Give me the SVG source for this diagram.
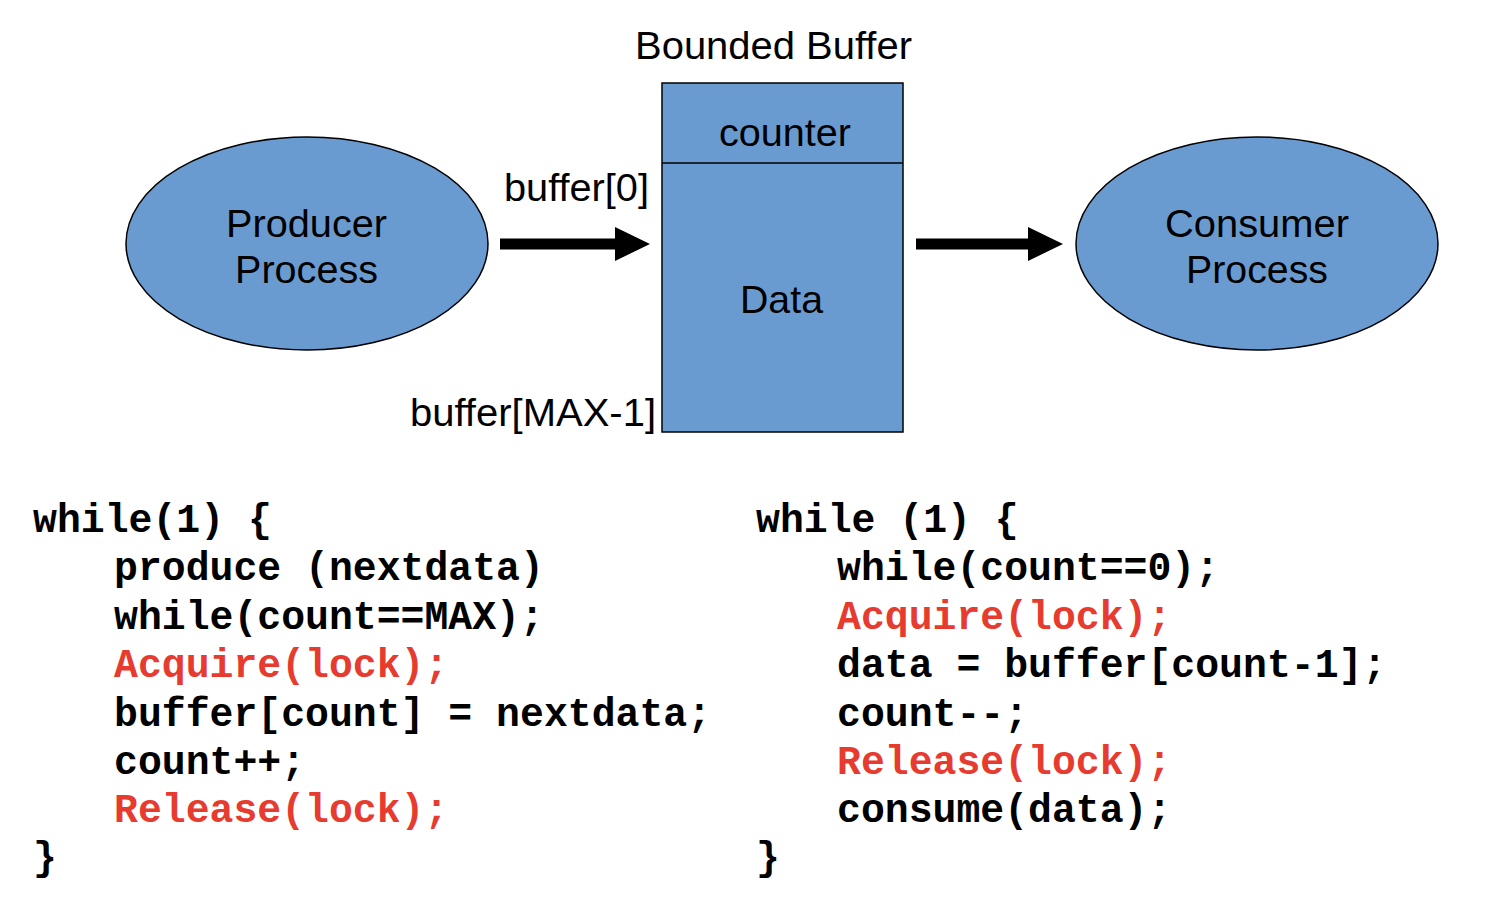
<svg xmlns="http://www.w3.org/2000/svg" width="1492" height="922" viewBox="0 0 1492 922">
<style>
.shape{fill:#6a9bd0;stroke:#000;stroke-width:1.5}
.lbl{font-family:"Liberation Sans",Arial,sans-serif;font-size:39px;fill:#000}
.code{font-family:"Liberation Mono","Courier New",monospace;font-size:39.8px;font-weight:bold;fill:#000;white-space:pre}
.red{fill:#e63b2e}
.arrow{stroke:#000;stroke-width:11;fill:none}
</style>
<defs>
<marker id="ah" markerUnits="userSpaceOnUse" markerWidth="36" markerHeight="34" refX="0" refY="17" orient="auto" overflow="visible">
<path d="M0,0 L35,17 L0,34 Z" fill="#000"/>
</marker>
</defs>
<rect width="1492" height="922" fill="#fff"/>

<g id="producer">
<ellipse class="shape" cx="307" cy="243.5" rx="181" ry="106.5"/>
<text class="lbl" x="226" y="237" textLength="161" lengthAdjust="spacingAndGlyphs">Producer</text>
<text class="lbl" x="235" y="283" textLength="143" lengthAdjust="spacingAndGlyphs">Process</text>
</g>

<g id="buffer">
<text class="lbl" x="635" y="59" textLength="277" lengthAdjust="spacingAndGlyphs">Bounded Buffer</text>
<rect class="shape" x="662" y="83" width="241" height="349"/>
<line x1="662" y1="163" x2="903" y2="163" stroke="#000" stroke-width="1.5"/>
<text class="lbl" x="719" y="146" textLength="132" lengthAdjust="spacingAndGlyphs">counter</text>
<text class="lbl" x="740" y="313" textLength="83" lengthAdjust="spacingAndGlyphs">Data</text>
<text class="lbl" x="504" y="201" textLength="145" lengthAdjust="spacingAndGlyphs">buffer[0]</text>
<text class="lbl" x="410" y="426" textLength="246" lengthAdjust="spacingAndGlyphs">buffer[MAX-1]</text>
</g>

<g id="consumer">
<ellipse class="shape" cx="1257" cy="243.5" rx="181" ry="106.5"/>
<text class="lbl" x="1165" y="237" textLength="184" lengthAdjust="spacingAndGlyphs">Consumer</text>
<text class="lbl" x="1186" y="283" textLength="142" lengthAdjust="spacingAndGlyphs">Process</text>
</g>

<g id="connectors">
<line class="arrow" x1="500" y1="244" x2="615" y2="244" marker-end="url(#ah)"/>
<line class="arrow" x1="916" y1="244" x2="1028" y2="244" marker-end="url(#ah)"/>
</g>

<g id="producer-code">
<text class="code" x="33" y="532">while(1) {</text>
<text class="code" x="114" y="580">produce (nextdata)</text>
<text class="code" x="114" y="629">while(count==MAX);</text>
<text class="code red" x="114" y="677">Acquire(lock);</text>
<text class="code" x="114" y="726">buffer[count] = nextdata;</text>
<text class="code" x="114" y="774">count++;</text>
<text class="code red" x="114" y="822">Release(lock);</text>
<text class="code" x="33" y="870">}</text>
</g>

<g id="consumer-code">
<text class="code" x="756" y="532">while (1) {</text>
<text class="code" x="837" y="580">while(count==0);</text>
<text class="code red" x="837" y="629">Acquire(lock);</text>
<text class="code" x="837" y="677">data = buffer[count-1];</text>
<text class="code" x="837" y="726">count--;</text>
<text class="code red" x="837" y="774">Release(lock);</text>
<text class="code" x="837" y="822">consume(data);</text>
<text class="code" x="756" y="870">}</text>
</g>
</svg>
